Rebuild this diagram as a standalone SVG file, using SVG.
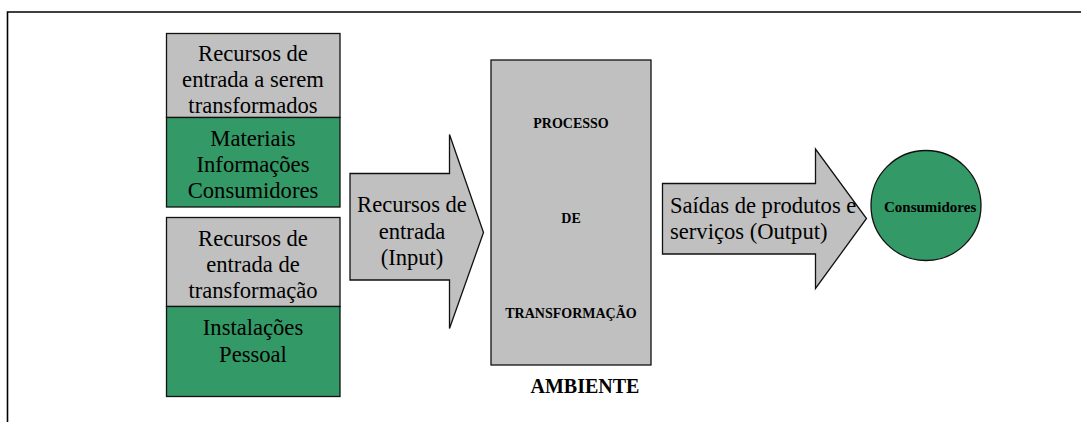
<svg xmlns="http://www.w3.org/2000/svg" width="1081" height="422" viewBox="0 0 1081 422">
<style>
.gray{fill:#c0c0c0;stroke:#111;stroke-width:1.3}
.green{fill:#339966;stroke:#111;stroke-width:1.3}
text{font-family:'Liberation Serif','Times New Roman','DejaVu Serif',serif;fill:#000}
.t{font-size:22.6px;text-anchor:middle}
.b{font-weight:bold;text-anchor:middle}
.frame{fill:none;stroke:#000;stroke-width:1.6}
</style>
<rect width="1081" height="422" fill="#fff"/>
<path class="frame" d="M7.5,422 V12 H1081"/>
<g id="recursos-transformados">
<rect class="gray" x="166.5" y="33.5" width="173.5" height="84"/>
<text class="t" x="253" y="61">Recursos de</text>
<text class="t" x="253" y="87">entrada a serem</text>
<text class="t" x="253" y="113">transformados</text>
</g>
<g id="materiais">
<rect class="green" x="166.5" y="117.5" width="173.5" height="89.5"/>
<text class="t" x="253" y="146">Materiais</text>
<text class="t" x="253" y="172">Informações</text>
<text class="t" x="253" y="198">Consumidores</text>
</g>
<g id="recursos-transformacao">
<rect class="gray" x="166.5" y="217.5" width="173.5" height="89"/>
<text class="t" x="253" y="246">Recursos de</text>
<text class="t" x="253" y="272">entrada de</text>
<text class="t" x="253" y="298">transformação</text>
</g>
<g id="instalacoes">
<rect class="green" x="166.5" y="306.5" width="173.5" height="90"/>
<text class="t" x="253" y="335">Instalações</text>
<text class="t" x="253" y="362">Pessoal</text>
</g>
<g id="connectors">
<g id="input-arrow">
<path class="gray" d="M350,173.5 H449.5 V134.5 L483.5,232.5 L449.5,328.5 V280 H350 Z"/>
<text class="t" x="412" y="212">Recursos de</text>
<text class="t" x="412" y="239">entrada</text>
<text class="t" x="412" y="265">(Input)</text>
</g>
<g id="output-arrow">
<path class="gray" d="M662.5,183.5 H815.5 V149 L866.5,218.5 L815.5,288.5 V254 H662.5 Z"/>
<text class="t" x="670" y="213" style="text-anchor:start">Saídas de produtos e</text>
<text class="t" x="670" y="239" style="text-anchor:start">serviços (Output)</text>
</g>
</g>
<g id="processo">
<rect class="gray" x="491" y="60" width="160" height="305"/>
<text class="b" x="571" y="128" font-size="14">PROCESSO</text>
<text class="b" x="571" y="223" font-size="14">DE</text>
<text class="b" x="571" y="318" font-size="14">TRANSFORMAÇÃO</text>
</g>
<g id="ambiente">
<text class="b" x="585" y="393" font-size="20">AMBIENTE</text>
</g>
<g id="consumidores">
<circle class="green" cx="926" cy="205.5" r="55"/>
<text class="b" x="884" y="212" font-size="15" style="text-anchor:start">Consumidores</text>
</g>
</svg>
